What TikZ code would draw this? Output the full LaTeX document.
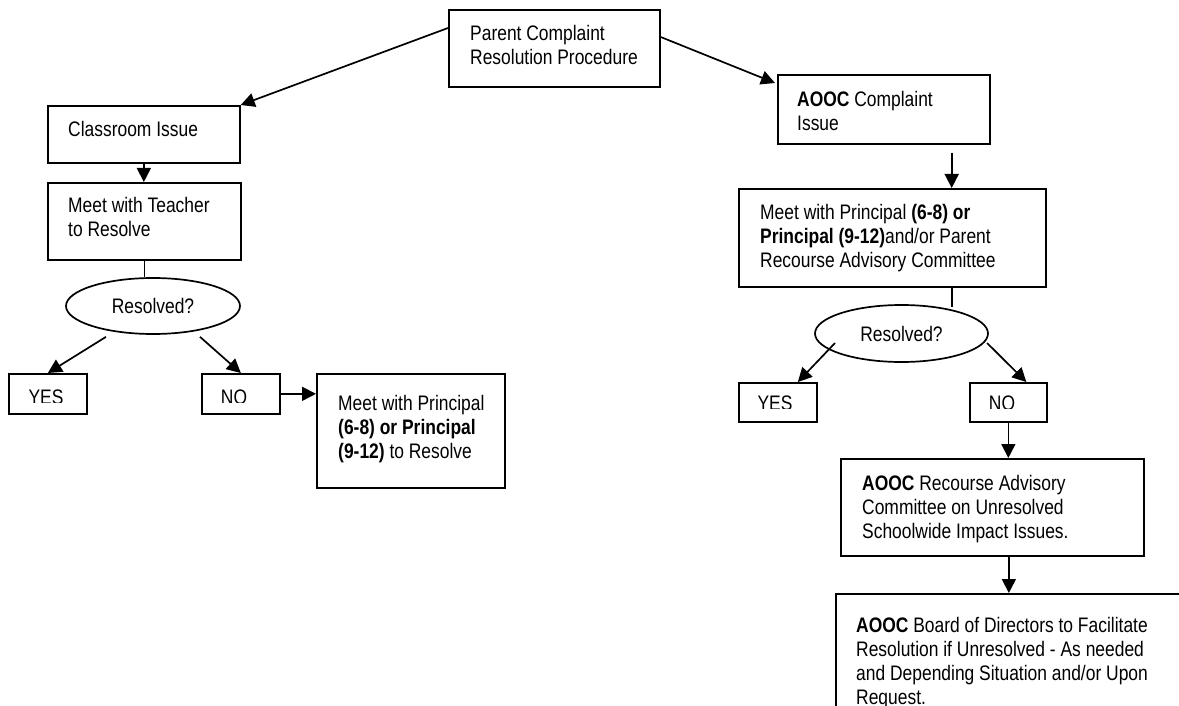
\documentclass[tikz,border=0pt]{standalone}
\usepackage{fontspec}
\setmainfont{Liberation Sans}[FakeStretch=0.83]
\usetikzlibrary{arrows.meta,shapes.geometric,calc}
\newcommand{\fs}{\fontsize{21pt}{24pt}\selectfont}
\tikzset{
  box/.style={draw, line width=1.7pt, anchor=north west, inner sep=0pt},
  oval/.style={draw, ellipse, line width=1.7pt, inner sep=0pt, font=\fs},
  txt/.style={anchor=north west, inner sep=0pt, align=left, font=\fs},
  ctxt/.style={anchor=north, inner sep=0pt, font=\fs},
  arr/.style={line width=1.7pt, -{Triangle[length=14pt,width=14pt]}},
  ln/.style={line width=1.7pt}
}
\begin{document}
\begin{tikzpicture}[x=1pt,y=-1pt]
\clip (0,0) rectangle (1179,706);
\fill[white] (0,0) rectangle (1179,706);
% boxes
\node[box, minimum width=211pt, minimum height=77pt] (parent) at (448,9) {};
\node[box, minimum width=192pt, minimum height=57pt] (classroom) at (47,105) {};
\node[box, minimum width=193pt, minimum height=77pt] (teacher) at (47,182) {};
\node[oval, minimum width=174pt, minimum height=56pt] (ellL) at (153,306) {Resolved?};
\node[box, minimum width=78pt, minimum height=40pt] (yesL) at (8,373) {};
\node[box, minimum width=78pt, minimum height=40pt] (noL) at (201,373) {};
\node[box, minimum width=188pt, minimum height=114pt] (princL) at (316,373) {};
\node[box, minimum width=212pt, minimum height=69pt] (aooc) at (777,74) {};
\node[box, minimum width=307pt, minimum height=98pt] (meetR) at (738,188) {};
\node[oval, minimum width=173pt, minimum height=57pt] (ellR) at (901.5,333.5) {Resolved?};
\node[box, minimum width=78pt, minimum height=39pt] (yesR) at (738,382) {};
\node[box, minimum width=77pt, minimum height=39pt] (noR) at (969,382) {};
\node[box, minimum width=303pt, minimum height=97pt] (recourse) at (840,458) {};
\node[box, minimum width=400pt, minimum height=150pt] (board) at (835,593) {};
% texts
\node[txt] (parentT) at (470,23.7) {\strut Parent Complaint\\Resolution Procedure};
\node[txt] (classroomT) at (68,119.7) {\strut Classroom Issue};
\node[txt] (teacherT) at (68,195.7) {\strut Meet with Teacher\\to Resolve};
\node[txt] (princLT) at (338,393.7) {\strut Meet with Principal\\\textbf{(6-8) or Principal}\\\textbf{(9-12)} to Resolve};
\node[txt] (aoocT) at (797,89.7) {\strut\textbf{AOOC} Complaint\\Issue};
\node[txt] (meetRT) at (760,202.7) {\strut Meet with Principal \textbf{(6-8) or}\\\textbf{Principal (9-12)}and/or Parent\\Recourse Advisory Committee};
\node[txt] (recourseT) at (862,473.7) {\strut\textbf{AOOC} Recourse Advisory\\Committee on Unresolved\\Schoolwide Impact Issues.};
\node[txt] (boardT) at (856,615.7) {\strut\textbf{AOOC} Board of Directors to Facilitate\\Resolution if Unresolved - As needed\\and Depending Situation and/or Upon\\Request.};
\begin{scope}
  \clip (8,373) rectangle (86,402);
  \node[ctxt] (yesLT) at (46,387.2) {\strut YES};
\end{scope}
\begin{scope}
  \clip (201,373) rectangle (279,402);
  \node[ctxt] (noLT) at (234,387.2) {\strut NO};
\end{scope}
\begin{scope}
  \clip (738,382) rectangle (816,408);
  \node[ctxt] (yesRT) at (775,393.2) {\strut YES};
\end{scope}
\begin{scope}
  \clip (969,382) rectangle (1046,408);
  \node[ctxt] (noRT) at (1002,393.2) {\strut NO};
\end{scope}
% connectors
\draw[arr] ([yshift=-19pt]parent.north west) -- (classroom.north east);
\draw[arr] ([yshift=-28pt]parent.north east) -- ([xshift=-2pt,yshift=-9pt]aooc.north west);
\draw[arr] (classroom.south) -- (classroom.south |- teacher.north);
\draw[ln] (teacher.south) -- (teacher.south |- ellL.north);
\draw[arr] ([xshift=-47pt,yshift=-2pt]ellL.south) -- (yesL.north);
\draw[arr] ([xshift=47pt,yshift=-2pt]ellL.south) -- (noL.north);
\draw[arr] (noL.east) -- (noL.east -| princL.west);
\coordinate (a1) at ([xshift=-39pt,yshift=-8pt]aooc.south east);
\draw[arr] (a1) -- (a1 |- meetR.north);
\coordinate (m1) at ([xshift=-95pt]meetR.south east);
\coordinate (m2) at (m1 |- ellR.north);
\draw[ln] (m1) -- ([yshift=-3pt]m2);
\draw[arr] ([xshift=-66.5pt,yshift=-9.5pt]ellR.center) -- ([xshift=20pt]yesR.north);
\draw[arr] ([xshift=85.5pt,yshift=-9.5pt]ellR.center) -- ([xshift=18pt]noR.north);
\draw[arr] (noR.south) -- (noR.south |- recourse.north);
\coordinate (r1) at ([xshift=16.5pt]recourse.south);
\draw[arr] (r1) -- (r1 |- board.north);
\end{tikzpicture}
\end{document}
